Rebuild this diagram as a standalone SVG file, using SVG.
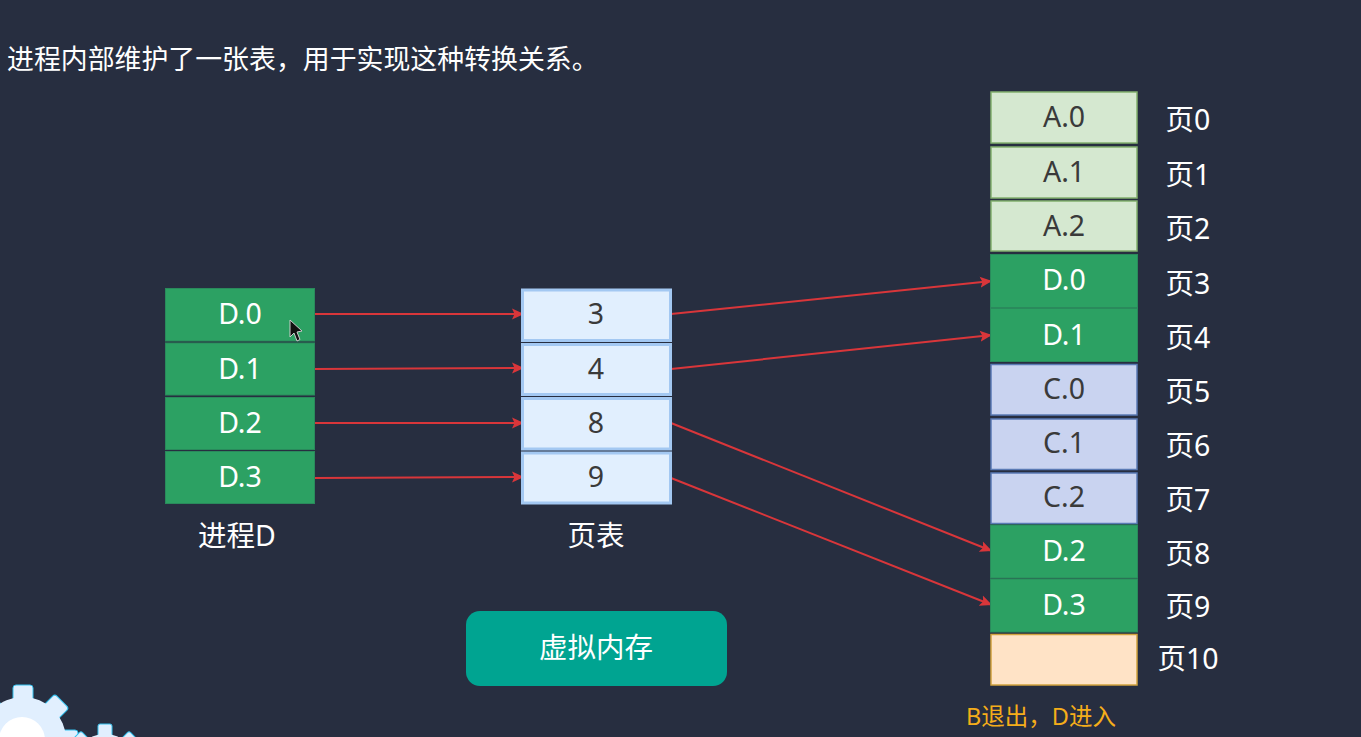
<svg xmlns="http://www.w3.org/2000/svg" width="1361" height="737" viewBox="0 0 1361 737">
<style>
text{font-family:"Noto Sans","Noto Sans CJK SC",sans-serif;text-anchor:middle;font-size:28.5px}
.t{fill:#fff}.k{fill:#3a3a3a}
.g{fill:#2ca163;stroke:#2a8a5c;stroke-width:1}
.b{fill:#e1effe;stroke:#a3c8f2;stroke-width:3}
.a{fill:#d5e8d0;stroke:#82b06e;stroke-width:1.5}
.c{fill:#c9d3f0;stroke:#5a7ab5;stroke-width:1.5}
.o{fill:#ffe3c6;stroke:#d2a33e;stroke-width:1.5}
.l{stroke:#d9363a;stroke-width:2;fill:none;marker-end:url(#ah)}
</style>
<defs>
<marker id="ah" markerUnits="userSpaceOnUse" markerWidth="13" markerHeight="12" refX="12" refY="6" orient="auto"><path d="M0 0.500L12 6L0 11.500L2.500 6Z" fill="#d9363a"/></marker>
<g id="gt"><rect x="-10" y="-55" width="20" height="20" rx="3"/></g>
<g id="gs"><rect x="-7" y="-41" width="14" height="14" rx="2"/></g>
</defs>
<rect width="1361" height="737" fill="#272e40"/>
<text id="title" x="7" y="69" class="t" style="text-anchor:start;font-size:26.9px">进程内部维护了一张表，用于实现这种转换关系。</text>

<g id="gear-big">
<g fill="#e1effe" stroke="#35c1ee" stroke-width="1" transform="translate(23,740)">
<use href="#gt"/><use href="#gt" transform="rotate(45)"/><use href="#gt" transform="rotate(90)"/><use href="#gt" transform="rotate(-45)"/><use href="#gt" transform="rotate(135)"/>
</g>
<circle cx="23" cy="740" r="43" fill="#e1effe"/>
<circle cx="22" cy="740" r="23" fill="#fff"/>
</g>
<g id="gear-small">
<g fill="#e1effe" stroke="#35c1ee" stroke-width="1" transform="translate(105,765)">
<use href="#gs"/><use href="#gs" transform="rotate(45)"/><use href="#gs" transform="rotate(-45)"/>
</g>
<circle cx="105" cy="765" r="31" fill="#e1effe"/>
</g>

<g id="connectors">
<path class="l" d="M315 314H524"/>
<path class="l" d="M315 369L524 368"/>
<path class="l" d="M315 423H524"/>
<path class="l" d="M315 478L524 477"/>
<path class="l" d="M671 314L992 281"/>
<path class="l" d="M671 369L992 335"/>
<path class="l" d="M671 423L992 551"/>
<path class="l" d="M671 478L992 605"/>
</g>

<g id="proc-d0"><rect class="g" x="165.5" y="288.5" width="149" height="52.5"/><text class="t" x="240" y="324">D.0</text></g>
<g id="proc-d1"><rect class="g" x="165.500" y="343" width="149" height="52"/><text class="t" x="240" y="379">D.1</text></g>
<g id="proc-d2"><rect class="g" x="165.5" y="397.500" width="149" height="52"/><text class="t" x="240" y="433">D.2</text></g>
<g id="proc-d3"><rect class="g" x="165.5" y="451.500" width="149" height="52"/><text class="t" x="240" y="487">D.3</text></g>
<text id="proc-label" class="t" x="237" y="546">进程D</text>

<g id="pt-3"><rect class="b" x="522.5" y="290" width="148" height="50.5"/><text class="k" x="596" y="324">3</text></g>
<g id="pt-4"><rect class="b" x="522.5" y="344.5" width="148" height="50"/><text class="k" x="596" y="379">4</text></g>
<g id="pt-8"><rect class="b" x="522.5" y="398.5" width="148" height="50.5"/><text class="k" x="596" y="433">8</text></g>
<g id="pt-9"><rect class="b" x="522.5" y="453" width="148" height="50"/><text class="k" x="596" y="487">9</text></g>
<text id="pt-label" class="t" x="596" y="546">页表</text>

<g id="vm"><rect x="466" y="611" width="261" height="75" rx="14" fill="#00a491"/><text class="t" x="596" y="658">虚拟内存</text></g>

<g id="mem-0"><rect class="a" x="991" y="92" width="146" height="51"/><text class="k" x="1064" y="127">A.0</text><text class="t" x="1188" y="130">页0</text></g>
<g id="mem-1"><rect class="a" x="991" y="147" width="146" height="51"/><text class="k" x="1064" y="182">A.1</text><text class="t" x="1188" y="185">页1</text></g>
<g id="mem-2"><rect class="a" x="991" y="201" width="146" height="50"/><text class="k" x="1064" y="236">A.2</text><text class="t" x="1188" y="239">页2</text></g>
<g id="mem-3"><rect class="g" x="990.5" y="254.5" width="147" height="53"/><text class="t" x="1064" y="290">D.0</text><text class="t" x="1188" y="294">页3</text></g>
<g id="mem-4"><rect class="g" x="990.5" y="308.5" width="147" height="53"/><text class="t" x="1064" y="345">D.1</text><text class="t" x="1188" y="348">页4</text></g>
<g id="mem-5"><rect class="c" x="991" y="364.500" width="146" height="50.5"/><text class="k" x="1064" y="399">C.0</text><text class="t" x="1188" y="402">页5</text></g>
<g id="mem-6"><rect class="c" x="991" y="419" width="146" height="50.5"/><text class="k" x="1064" y="453">C.1</text><text class="t" x="1188" y="456">页6</text></g>
<g id="mem-7"><rect class="c" x="991" y="473" width="146" height="50.5"/><text class="k" x="1064" y="507">C.2</text><text class="t" x="1188" y="510">页7</text></g>
<g id="mem-8"><rect class="g" x="990.5" y="525" width="147" height="53"/><text class="t" x="1064" y="561">D.2</text><text class="t" x="1188" y="564">页8</text></g>
<g id="mem-9"><rect class="g" x="990.5" y="579" width="147" height="53"/><text class="t" x="1064" y="615">D.3</text><text class="t" x="1188" y="617">页9</text></g>
<g id="mem-10"><rect class="o" x="991" y="634.500" width="146" height="50.5"/><text class="t" x="1188" y="669">页10</text></g>
<text id="note" x="1041" y="725" fill="#f5ad1a" style="font-size:23.5px">B退出，D进入</text>

<path id="cursor" d="M290 320V337L294 333L297 341L300 339.500L297 332L302 331Z" fill="#111" stroke="#ccc" stroke-width="1"/>
</svg>
